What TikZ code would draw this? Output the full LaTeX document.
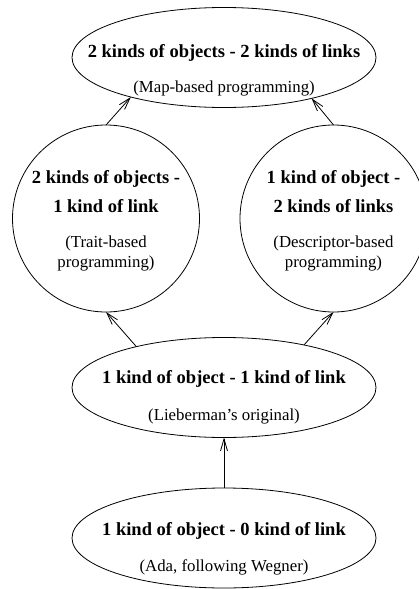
\documentclass[tikz,border=0pt]{standalone}
\usepackage{fontspec}
\setmainfont{Liberation Serif}
\usetikzlibrary{shapes.geometric,arrows.meta}
\begin{document}
\begin{tikzpicture}[x=1pt,y=-1pt,
  oval/.style={draw,ellipse,line width=0.8pt,inner sep=0pt,outer sep=0pt,minimum width=304pt,minimum height=100pt},
  round/.style={draw,circle,line width=0.8pt,inner sep=0pt,outer sep=0pt,minimum size=187pt},
  ttl/.style={anchor=base,inner sep=0pt,font=\fontsize{18.5}{22}\selectfont\bfseries},
  sub/.style={anchor=base,inner sep=0pt,font=\fontsize{16.8}{20}\selectfont},
  arr/.style={line width=0.8pt,-{Straight Barb[length=12pt,width=7pt,line width=0.8pt]}}]
\useasboundingbox (0,0) rectangle (418,589);
% shapes
\node[oval] (top) at (224,57.5) {};
\node[round] (lc) at (106,218.5) {};
\node[round] (rc) at (333.5,218.5) {};
\node[oval] (mid) at (224,387.5) {};
\node[oval] (bot) at (224,538) {};
% texts
\node[ttl] (t1) at (224,57) {2 kinds of objects - 2 kinds of links};
\node[sub] (s1) at (224,92) {(Map-based programming)};
\node[ttl] (t2a) at (106,183) {2 kinds of objects -};
\node[ttl] (t2b) at (106,212) {1 kind of link};
\node[sub] (s2a) at (106,247) {(Trait-based};
\node[sub] (s2b) at (106,267) {programming)};
\node[ttl] (t3a) at (333.5,183) {1 kind of object -};
\node[ttl] (t3b) at (333.5,212) {2 kinds of links};
\node[sub] (s3a) at (333.5,247) {(Descriptor-based};
\node[sub] (s3b) at (333.5,267) {programming)};
\node[ttl] (t4) at (224,383) {1 kind of object - 1 kind of link};
\node[sub] (s4) at (224,420) {(Lieberman’s original)};
\node[ttl] (t5) at (224,535) {1 kind of object - 0 kind of link};
\node[sub] (s5) at (224,571) {(Ada, following Wegner)};
% connectors
\draw[arr] (lc.north) -- (top.203.6);
\draw[arr] (rc.north) -- (top.335);
\draw[arr] (mid.155) -- (lc.south);
\draw[arr] (mid.28) -- (rc.south);
\draw[arr] (bot.north) -- (mid.south);
\end{tikzpicture}
\end{document}
